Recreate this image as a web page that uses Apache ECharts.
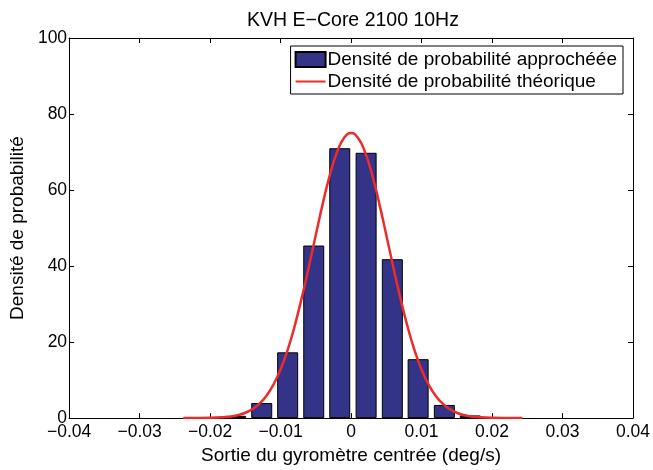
<!DOCTYPE html>
<html>
<head>
<meta charset="utf-8">
<script src="https://cdn.jsdelivr.net/npm/echarts@6/dist/echarts.min.js"></script>
<style>html,body{margin:0;padding:0;background:#fff}#c{width:653px;height:470px}</style>
</head>
<body>
<div id="c"></div>
<script>
const titleText = "KVH E\u2212Core 2100 10Hz";
const xName = "Sortie du gyromètre centrée (deg/s)";
const yName = "Densité de probabilité";
const legendBar = "Densité de probabilité approchéée";
const legendLine = "Densité de probabilité théorique";

const binCenters = [-0.01637, -0.01267, -0.00899, -0.00529, -0.00160, 0.00214, 0.00586, 0.00952, 0.01324, 0.01692];
const binHeights = [0.6, 3.96, 17.3, 45.4, 71.0, 69.8, 41.8, 15.5, 3.46, 0.7];

const curveX = [-0.0238, -0.022, -0.020, -0.018, -0.017, -0.016, -0.015, -0.014, -0.013, -0.012, -0.011, -0.010, -0.009, -0.008, -0.007, -0.006, -0.005, -0.004, -0.003, -0.002, -0.001, 0.000, 0.001, 0.002, 0.003, 0.004, 0.005, 0.006, 0.007, 0.008, 0.009, 0.010, 0.011, 0.012, 0.013, 0.014, 0.015, 0.016, 0.017, 0.018, 0.020, 0.022, 0.0243];
const curveY = [0.0, 0.01, 0.06, 0.25, 0.45, 0.81, 1.41, 2.35, 3.79, 5.9, 8.84, 12.8, 17.9, 24.2, 31.6, 39.7, 48.2, 56.5, 64.0, 69.9, 73.7, 75.0, 73.7, 69.9, 64.0, 56.5, 48.2, 39.7, 31.6, 24.2, 17.9, 12.8, 8.84, 5.9, 3.79, 2.35, 1.41, 0.81, 0.45, 0.25, 0.06, 0.01, 0.0];

const FONT = "Liberation Sans, Arial, Helvetica, sans-serif";
const chart = echarts.init(document.getElementById('c'), null, {renderer: 'canvas'});

function fmtX(v) {
  if (Math.abs(v) < 1e-9) return "0";
  const s = Math.abs(v).toFixed(2);
  return (v < 0 ? "\u2212" : "") + s;
}

const axisLineStyle = {show: true, onZero: false, lineStyle: {color: '#000', width: 1}};
const tickStyle = {show: true, inside: true, length: 5, lineStyle: {color: '#000', width: 1}};

chart.setOption({
  animation: false,
  backgroundColor: '#fff',
  title: {
    text: titleText,
    left: 348, top: 6, textAlign: 'center',
    textStyle: {fontFamily: FONT, fontSize: 19.5, fontWeight: 'normal', color: '#000'}
  },
  grid: {left: 66, right: 20, top: 38, bottom: 46, containLabel: false},
  legend: {
    orient: 'vertical',
    right: 30, top: 46,
    padding: [4, 6, 3, 4],
    itemGap: 3,
    itemWidth: 30, itemHeight: 15,
    borderColor: '#000', borderWidth: 1,
    backgroundColor: '#fff',
    textStyle: {fontFamily: FONT, fontSize: 19, color: '#000', padding: [0, 0, 0, -3]},
    data: [
      {name: legendBar, icon: 'rect'},
      {name: legendLine, icon: 'path://M0,0 M0,6.5 L30,6.5 L30,8.5 L0,8.5 Z M30,15'}
    ]
  },
  xAxis: [
    {
      type: 'value', min: -0.04, max: 0.04, interval: 0.01,
      position: 'bottom',
      axisLine: axisLineStyle, axisTick: tickStyle,
      splitLine: {show: false},
      axisLabel: {margin: 5, fontFamily: FONT, fontSize: 17.5, color: '#000', formatter: fmtX},
      name: xName, nameLocation: 'middle', nameGap: 27,
      nameTextStyle: {fontFamily: FONT, fontSize: 19, color: '#000'}
    },
    {
      type: 'value', min: -0.04, max: 0.04, interval: 0.01,
      position: 'top',
      axisLine: axisLineStyle, axisTick: tickStyle,
      splitLine: {show: false}, axisLabel: {show: false}
    }
  ],
  yAxis: [
    {
      type: 'value', min: 0, max: 100, interval: 20,
      position: 'left',
      axisLine: axisLineStyle, axisTick: tickStyle,
      splitLine: {show: false},
      axisLabel: {margin: 2, fontFamily: FONT, fontSize: 17.5, color: '#000'},
      name: yName, nameLocation: 'middle', nameGap: 39,
      nameTextStyle: {fontFamily: FONT, fontSize: 19, color: '#000'}
    },
    {
      type: 'value', min: 0, max: 100, interval: 20,
      position: 'right',
      axisLine: axisLineStyle, axisTick: tickStyle,
      splitLine: {show: false}, axisLabel: {show: false}
    }
  ],
  series: [
    {
      name: legendBar,
      type: 'bar',
      xAxisIndex: 0, yAxisIndex: 0,
      barWidth: 21,
      data: binCenters.map((x, i) => [x, binHeights[i]]),
      itemStyle: {color: '#333388', borderColor: '#000', borderWidth: 1}
    },
    {
      name: legendLine,
      type: 'line',
      xAxisIndex: 0, yAxisIndex: 0,
      smooth: true,
      symbol: 'none',
      data: curveX.map((x, i) => [x, curveY[i]]),
      lineStyle: {color: '#ee2b2b', width: 2.5},
      itemStyle: {color: '#ee2b2b'}
    }
  ]
});
</script>
</body>
</html>
